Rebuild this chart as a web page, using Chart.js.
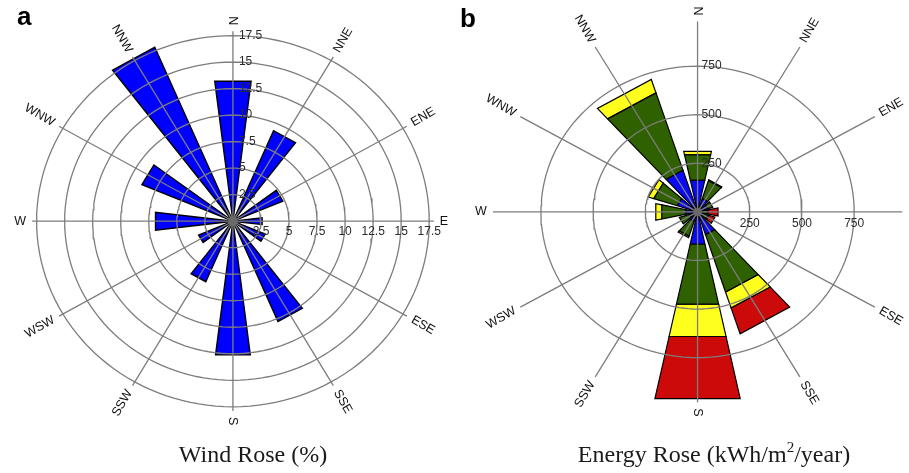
<!DOCTYPE html>
<html>
<head>
<meta charset="utf-8">
<script src="https://cdn.jsdelivr.net/npm/chart.js@4.4.1/dist/chart.umd.min.js"></script>
<style>
  html, body { margin: 0; padding: 0; background: #fff; width: 909px; height: 473px; overflow: hidden; }
  .wrap { position: absolute; top: 0; height: 473px; }
  #wrapA { left: 0; width: 455px; }
  #wrapB { left: 455px; width: 454px; }
  .panel { position: absolute; font: bold 26px "Liberation Sans", Arial, sans-serif; line-height: 30px; color: #000; }
  .cap { position: absolute; top: 441px; line-height: 26px; height: 26px; font-family: "Liberation Serif", "Times New Roman", serif;
         font-size: 24px; color: #1a1a1a; white-space: nowrap; transform: translateX(-50%); }
  .sup { font-size: 15px; position: relative; top: -10px; }
</style>
</head>
<body>
<div class="wrap" id="wrapA"><canvas id="roseA" width="455" height="473"></canvas></div>
<div class="wrap" id="wrapB"><canvas id="roseB" width="454" height="473"></canvas></div>
<div class="panel" style="left:17px; top:1px;">a</div>
<div class="panel" style="left:460px; top:3px;">b</div>
<div class="cap" style="left:253px;">Wind Rose (%)</div>
<div class="cap" style="left:714px;">Energy Rose (kWh/m<span class="sup">2</span>/year)</div>

<script>
// ---- data ----
const compassLabels = ['N', 'NNE', 'ENE', 'E', 'ESE', 'SSE', 'S', 'SSW', 'WSW', 'W', 'WNW', 'NNW'];
const sectorAngles = [0, 30, 60, 90, 120, 150, 180, 210, 240, 270, 300, 330];

// wind rose: frequency of occurrence (%) per sector
const windFrequency = [13.2, 9.2, 4.8, 2.6, 3.1, 10.2, 12.6, 6.15, 3.3, 6.9, 8.75, 17.7];
const windRings = [2.5, 5, 7.5, 10, 12.5, 15, 17.5];
const windTickLabels = ['2.5', '5', '7.5', '10', '12.5', '15', '17.5'];

// energy rose (kWh/m²/year) per sector, four stacked classes
const energyBlue   = [162, 70, 50, 25, 30, 120, 165, 50, 40, 55, 100, 220];
const energyGreen  = [132, 95, 25, 20, 20, 304, 310, 78, 50, 116, 116, 410];
const energyYellow = [18, 5, 0, 5, 5, 84, 166, 8, 0, 29, 27, 71];
const energyRed    = [0, 0, 0, 48, 31, 137, 320, 0, 0, 0, 0, 0];
const energyRings = [250, 500, 750];
const energyTickLabels = ['250', '500', '750'];

// ---- drawing helpers ----
const RAD = Math.PI / 180;
const polar = (r, deg) => ({ x: r * Math.sin(deg * RAD), y: r * Math.cos(deg * RAD) });

// flat-topped wedge segment between radii r0 and r1 (measured on the sector's centre line)
function wedge(r0, r1, angle, half) {
  const k = 1 / Math.cos(half * RAD);
  const pts = [polar(r0 * k, angle - half), polar(r1 * k, angle - half),
               polar(r1 * k, angle + half), polar(r0 * k, angle + half)];
  pts.push(pts[0]);
  return pts;
}
function ring(r) {
  const pts = [];
  for (let a = 0; a <= 360; a += 2.5) pts.push(polar(r, a));
  return pts;
}

const GRID = '#7d7d7d';
// Chart.js paints the lowest `order` last: hub on top, grid over the bars
const ORDER_HUB = 0, ORDER_GRID = 1, ORDER_BARS = 2;

function gridDatasets(rings, spokeLen) {
  const ds = [];
  rings.forEach(r => ds.push({ data: ring(r), borderColor: GRID, borderWidth: 1.3, fill: false, order: ORDER_GRID }));
  sectorAngles.forEach(a => ds.push({ data: [polar(0, a), polar(spokeLen, a)], borderColor: GRID, borderWidth: 1.3, fill: false, order: ORDER_GRID }));
  return ds;
}

function labelPlugin(g) {
  return {
    id: 'roseLabels',
    afterDatasetsDraw(chart) {
      const { ctx } = chart;
      const xs = chart.scales.x, ys = chart.scales.y;
      const X = v => xs.getPixelForValue(v), Y = v => ys.getPixelForValue(v);
      const cx = X(0), cy = Y(0);
      ctx.save();
      // radial tick labels on the north and east axes
      ctx.font = '12px "Liberation Sans", Arial, sans-serif';
      ctx.fillStyle = '#2a2a2a';
      g.rings.forEach((r, i) => {
        ctx.textAlign = 'left'; ctx.textBaseline = 'middle';
        ctx.fillText(g.ticks[i], cx + g.tickDx, Y(r));
        ctx.textAlign = 'center';
        ctx.fillText(g.ticks[i], X(r), cy + g.tickDy);
      });
      // compass labels along the spokes
      ctx.font = '12.5px "Liberation Sans", Arial, sans-serif';
      ctx.fillStyle = '#111';
      sectorAngles.forEach((a, i) => {
        const end = polar(g.spokeLen, a);
        const ex = X(end.x), ey = Y(end.y);
        let ux = ex - cx, uy = ey - cy;
        const len = Math.hypot(ux, uy); ux /= len; uy /= len;
        let rot = a - 90;
        while (rot > 90) rot -= 180;
        while (rot <= -90) rot += 180;
        const tx = Math.cos(rot * RAD), ty = Math.sin(rot * RAD);
        ctx.save();
        ctx.translate(ex + ux * g.gap, ey + uy * g.gap);
        ctx.rotate(rot * RAD);
        ctx.textAlign = (tx * ux + ty * uy) > 0 ? 'left' : 'right';
        ctx.textBaseline = 'middle';
        ctx.fillText(compassLabels[i], 0, 0);
        ctx.restore();
      });
      ctx.restore();
    }
  };
}

function makeRose(id, g, barSets) {
  const canvas = document.getElementById(id);
  const W = canvas.width, H = canvas.height, pad = 2;
  const datasets = [
    { data: [{ x: 0, y: 0 }], showLine: false, pointRadius: g.hub, pointBackgroundColor: '#6a6a6a', pointBorderWidth: 0, order: ORDER_HUB },
    ...gridDatasets(g.rings, g.spokeLen),
    ...barSets
  ];
  return new Chart(canvas, {
    type: 'line',
    data: { datasets },
    options: {
      responsive: false,
      animation: false,
      events: [],
      layout: { padding: pad },
      elements: { point: { radius: 0 }, line: { tension: 0, borderJoinStyle: 'miter' } },
      plugins: { legend: { display: false }, tooltip: { enabled: false }, title: { display: false } },
      scales: {
        x: { type: 'linear', display: false, min: -(g.cx - pad) / g.sx, max: (W - pad - g.cx) / g.sx },
        y: { type: 'linear', display: false, min: -(H - pad - g.cy) / g.sy, max: (g.cy - pad) / g.sy }
      }
    },
    plugins: [labelPlugin(g)]
  });
}

// ---- wind rose ----
const geomA = { cx: 233, cy: 221, sx: 11.37, sy: 10.743, half: 7, spokeLen: 17.9, hub: 5,
                rings: windRings, ticks: windTickLabels, tickDx: 6, tickDy: 10, gap: 6 };
const windBars = windFrequency.map((v, i) => ({
  data: wedge(0, v, sectorAngles[i], geomA.half),
  fill: 'shape', backgroundColor: '#0000ff', borderColor: '#000', borderWidth: 1.4, order: ORDER_BARS
}));
makeRose('roseA', geomA, windBars);

// ---- energy rose ----
const geomB = { cx: 242.7, cy: 211.7, sx: 0.2107, sy: 0.196, half: 12, spokeLen: 980, hub: 4,
                rings: energyRings, ticks: energyTickLabels, tickDx: 4, tickDy: 11.5, gap: 6 };
const classes = [
  { values: energyBlue, color: '#0a0af5' },
  { values: energyGreen, color: '#2f6100' },
  { values: energyYellow, color: '#ffff1e' },
  { values: energyRed, color: '#cc0a0a' }
];
const energyBars = [];
sectorAngles.forEach((a, i) => {
  let base = 0;
  classes.forEach(c => {
    const v = c.values[i];
    if (v > 0) {
      energyBars.push({
        data: wedge(base, base + v, a, geomB.half),
        fill: 'shape', backgroundColor: c.color, borderColor: '#000', borderWidth: 1.2, order: ORDER_BARS
      });
    }
    base += v;
  });
});
makeRose('roseB', geomB, energyBars);
</script>
</body>
</html>
